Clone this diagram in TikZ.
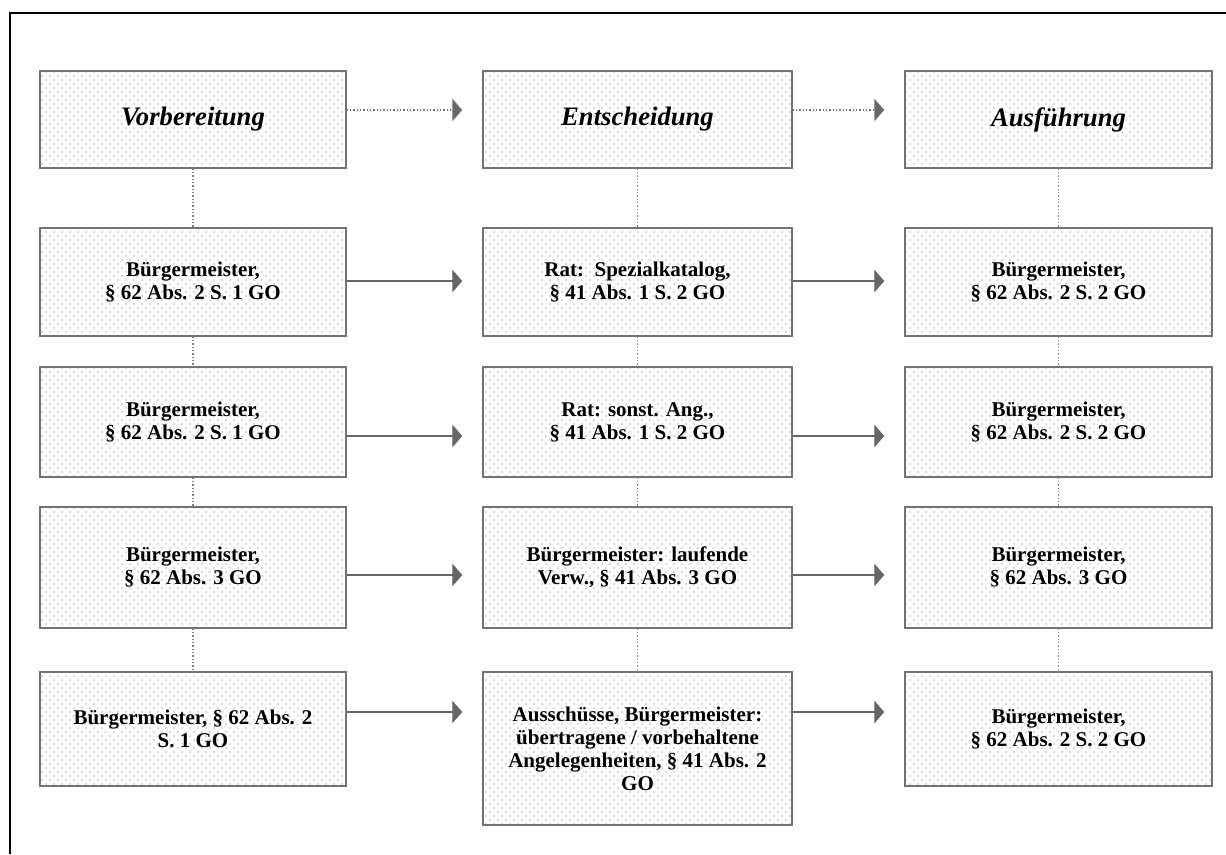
\documentclass[tikz,border=0pt]{standalone}
\usepackage{fontspec}
\setmainfont{Liberation Serif}
\usetikzlibrary{patterns.meta,arrows.meta,shadows}
\tikzdeclarepattern{
  name=mydots,
  type=uncolored,
  bottom left={(-.1pt,-.1pt)},
  top right={(6.1pt,6.1pt)},
  tile size={(6pt,6pt)},
  code={
    \fill (1.5pt,1.5pt) circle (0.65pt);
    \fill (4.5pt,4.5pt) circle (0.65pt);
  }
}
\tikzset{
  boxbase/.style={
    drop shadow={shadow xshift=0.7pt, shadow yshift=-0.7pt, fill=black!45, opacity=1},
    preaction={fill=white},
    draw=black!55, line width=1.1pt,
    pattern={mydots}, pattern color=black!28, align=center, inner sep=2pt},
  c1/.style={boxbase, minimum width=229.5pt},
  c2/.style={boxbase, minimum width=231.75pt},
  c3/.style={boxbase, minimum width=230.25pt},
  titlebox/.style={font=\fontsize{20}{22}\selectfont\bfseries\itshape},
  textbox/.style={font=\fontsize{15.75}{17.25}\selectfont\bfseries},
  vdot/.style={draw=black!50, line width=0.9pt, dash pattern=on 0.9pt off 1.6pt},
  hdotarr/.style={draw=black!55, line width=0.9pt, dash pattern=on 0.9pt off 1.6pt,
    -{Triangle[length=7.5pt,width=17pt,fill=black!60]}, shorten >=15pt},
  harr/.style={draw=black!60, line width=1pt,
    -{Triangle[length=7.5pt,width=17pt,fill=black!60]}, shorten >=15pt},
}
\begin{document}
\begin{tikzpicture}[x=0.75pt,y=-0.75pt]
\useasboundingbox (0,0) rectangle (1226,854);
\draw[line width=1.5pt] (10,854) -- (10,13) -- (1226,13);

% row 0
\node[c1, titlebox, minimum height=72.75pt] (a0) at (193,119.5) {Vorbereitung};
\node[c2, titlebox, minimum height=72.75pt] (b0) at (637.5,119.5) {Entscheidung};
\node[c3, titlebox, minimum height=72.75pt] (c0) at (1058.5,119.5) {Ausführung};

% row 1
\node[c1, textbox, minimum height=81pt] (a1) at (193,282) {Bürgermeister,\\§ 62 Abs. 2 S. 1 GO};
\node[c2, textbox, minimum height=81pt] (b1) at (637.5,282) {Rat:\ \ Spezialkatalog,\\§ 41 Abs. 1 S. 2 GO};
\node[c3, textbox, minimum height=81pt] (c1) at (1058.5,282) {Bürgermeister,\\§ 62 Abs. 2 S. 2 GO};

% row 2
\node[c1, textbox, minimum height=82.5pt] (a2) at (193,422) {Bürgermeister,\\§ 62 Abs. 2 S. 1 GO};
\node[c2, textbox, minimum height=82.5pt] (b2) at (637.5,422) {Rat: sonst. Ang.,\\§ 41 Abs. 1 S. 2 GO};
\node[c3, textbox, minimum height=82.5pt] (c2) at (1058.5,422) {Bürgermeister,\\§ 62 Abs. 2 S. 2 GO};

% row 3
\node[c1, textbox, minimum height=90.75pt] (a3) at (193,567.5) {Bürgermeister,\\§ 62 Abs. 3 GO};
\node[c2, textbox, minimum height=90.75pt] (b3) at (637.5,567.5) {Bürgermeister: laufende\\Verw., § 41 Abs. 3 GO};
\node[c3, textbox, minimum height=90.75pt] (c3) at (1058.5,567.5) {Bürgermeister,\\§ 62 Abs. 3 GO};

% row 4
\node[c1, textbox, minimum height=85.5pt] (a4) at (193,729) {Bürgermeister, § 62 Abs. 2\\S. 1 GO};
\node[c2, textbox, minimum height=114.75pt] (b4) at (637.5,748.5) {Ausschüsse, Bürgermeister:\\übertragene / vorbehaltene\\Angelegenheiten, § 41 Abs. 2\\GO};
\node[c3, textbox, minimum height=85.5pt] (c4) at (1058.5,729) {Bürgermeister,\\§ 62 Abs. 2 S. 2 GO};

% arrow levels
\coordinate (y0) at (0,110);
\coordinate (y1) at (0,281);
\coordinate (y2) at (0,436);
\coordinate (y3) at (0,575);
\coordinate (y4) at (0,712);

% vertical dotted connectors
\foreach \col in {a,b,c}{
  \draw[vdot] (\col0.south) -- (\col1.north);
  \draw[vdot] (\col1.south) -- (\col2.north);
  \draw[vdot] (\col2.south) -- (\col3.north);
  \draw[vdot] (\col3.south) -- (\col4.north);
}

% horizontal arrows
\draw[hdotarr] (a0.east |- y0) -- (b0.west |- y0);
\draw[hdotarr] (b0.east |- y0) -- (c0.west |- y0);
\foreach \r in {1,2,3,4}{
  \draw[harr] (a\r.east |- y\r) -- (b\r.west |- y\r);
  \draw[harr] (b\r.east |- y\r) -- (c\r.west |- y\r);
}
\end{tikzpicture}
\end{document}
